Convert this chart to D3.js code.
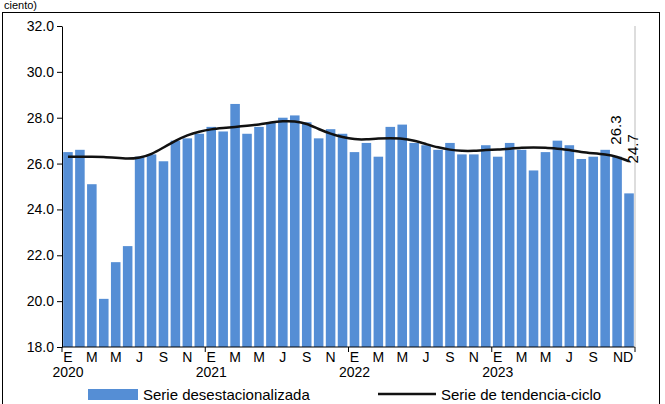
<!DOCTYPE html>
<html><head><meta charset="utf-8">
<script src="https://cdn.jsdelivr.net/npm/d3@7"></script>
<style>body{margin:0;background:#fff}text{font-family:Arial,"Liberation Sans",sans-serif}</style>
</head><body><div id="chart"></div>
<script>
var width = 665, height = 404;

var monthLetters = ["E","F","M","A","M","J","J","A","S","O","N","D"];
var years = [2020, 2021, 2022, 2023];
var seasonal = [26.5,26.6,25.1,20.1,21.7,22.4,26.3,26.4,26.1,27.0,27.1,27.3,
  27.6,27.4,28.6,27.3,27.6,27.8,28.0,28.1,27.8,27.1,27.5,27.3,
  26.5,26.9,26.3,27.6,27.7,26.9,26.8,26.6,26.9,26.4,26.4,26.8,
  26.3,26.9,26.6,25.7,26.5,27.0,26.8,26.2,26.3,26.6,26.3,24.7];
var trend = [26.3,26.3,26.3,26.3,26.25,26.2,26.25,26.4,26.7,27.0,27.25,27.4,
  27.5,27.55,27.6,27.65,27.7,27.8,27.85,27.85,27.75,27.5,27.3,27.15,
  27.05,27.05,27.1,27.1,27.1,27.0,26.85,26.7,26.6,26.55,26.55,26.6,
  26.6,26.65,26.7,26.7,26.7,26.65,26.6,26.5,26.45,26.4,26.3,26.1];
var yTicks = [18,20,22,24,26,28,30,32];

var svg = d3.select("#chart").append("svg").attr("width", width).attr("height", height);
svg.append("rect").attr("x",2.5).attr("y",12.5).attr("width",657).attr("height",395)
  .attr("fill","none").attr("stroke","#000").attr("stroke-width",1);
svg.append("text").attr("x",4).attr("y",9).attr("font-size",11).text("ciento)");

var x0 = 62, x1 = 635, yTop = 26, yBot = 347;
var idx = d3.range(seasonal.length);
var x = d3.scaleBand().domain(idx).range([x0, x1]).paddingInner(0.2).paddingOuter(0.1);
var y = d3.scaleLinear().domain([18, 32]).range([yBot, yTop]);

svg.selectAll("rect.bar").data(seasonal).enter().append("rect")
  .attr("class","bar")
  .attr("x", (d,i) => x(i)).attr("width", x.bandwidth())
  .attr("y", d => y(d)).attr("height", d => yBot - y(d))
  .attr("fill", "#558ed5");

var line = d3.line().x((d,i) => x(i) + x.bandwidth()/2).y(d => y(d)).curve(d3.curveBasis);
svg.append("path").datum(trend).attr("d", line).attr("fill","none")
  .attr("stroke","#111").attr("stroke-width",2.5);

var yAxis = svg.append("g").attr("transform","translate(" + x0 + ",0)")
  .call(d3.axisLeft(y).tickValues(yTicks).tickFormat(d3.format(".1f")).tickSize(5).tickSizeOuter(0));
yAxis.selectAll("text").attr("font-size",14).attr("fill","#000");
svg.append("line").attr("x1",x0).attr("x2",x1).attr("y1",yBot).attr("y2",yBot).attr("stroke","#000");
svg.append("line").attr("x1",x1).attr("x2",x1).attr("y1",yTop).attr("y2",yBot).attr("stroke","#bbb");

var step = x.step();
idx.concat([48]).forEach(function(i){
  var xx = x0 + (x1 - x0 - step*48)/2 + i*step;
  if (i % 12 === 0 || i === 48) svg.append("line").attr("x1",xx).attr("x2",xx).attr("y1",yBot).attr("y2",yBot+5).attr("stroke","#000");
});
idx.forEach(function(i){
  var m = i % 12;
  var lab = null;
  if (m % 2 === 0) lab = monthLetters[m];
  if (i === 46) lab = "ND";
  if (lab) svg.append("text").attr("x", x(i) + x.bandwidth()/2 + (i===46 ? step/2 : 0)).attr("y", 362)
    .attr("text-anchor","middle").attr("font-size",14).text(lab);
  if (m === 0) svg.append("text").attr("x", x(i) + x.bandwidth()/2).attr("y", 377)
    .attr("text-anchor","middle").attr("font-size",14).text(years[i/12]);
});

var lastX = x(47) + x.bandwidth()/2;
svg.append("text").attr("transform","translate(" + (lastX-8) + "," + (y(26.3)-12) + ") rotate(-90)")
  .attr("font-size",15).text("26.3");
svg.append("text").attr("transform","translate(" + (lastX+9) + "," + (y(24.7)-30) + ") rotate(-90)")
  .attr("font-size",15).text("24.7");

svg.append("rect").attr("x",88).attr("y",389).attr("width",50).attr("height",11).attr("fill","#558ed5");
svg.append("text").attr("x",143).attr("y",400).attr("font-size",15).text("Serie desestacionalizada");
svg.append("line").attr("x1",378).attr("x2",436).attr("y1",394).attr("y2",394).attr("stroke","#111").attr("stroke-width",2.5);
svg.append("text").attr("x",441).attr("y",400).attr("font-size",15).text("Serie de tendencia-ciclo");
</script></body></html>
